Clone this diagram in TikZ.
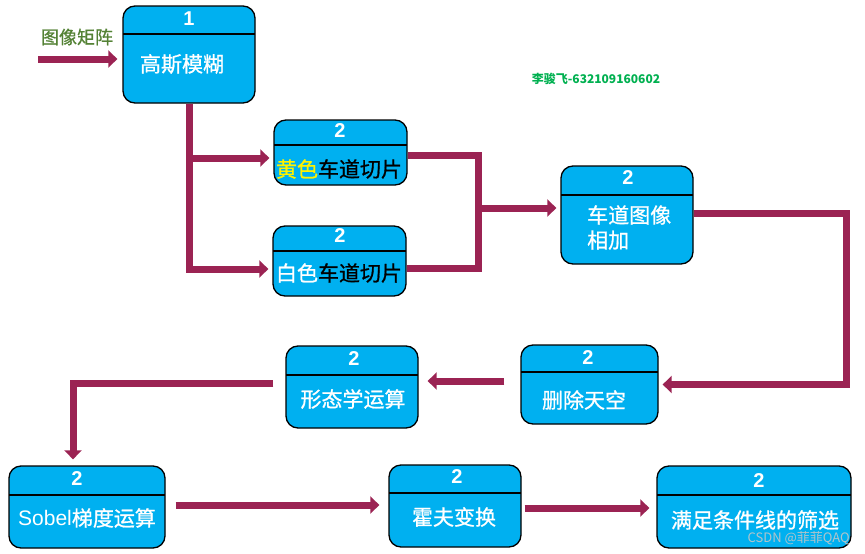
\documentclass[tikz,border=0pt]{standalone}
\usepackage{fontspec}
\setmainfont{Noto Sans CJK SC}
\newfontfamily\arialf{Liberation Sans}
\newfontfamily\medf{Noto Sans CJK SC}[FakeBold=0.9]
\usetikzlibrary{arrows.meta}
\definecolor{boxblue}{RGB}{0,176,240}
\definecolor{flowc}{RGB}{155,35,83}
\definecolor{labgreen}{RGB}{84,130,53}
\definecolor{idgreen}{RGB}{0,176,80}
\tikzset{
  box/.style={draw=black, line width=1.3pt, fill=boxblue, rounded corners=12pt, inner sep=0pt,
    path picture={\draw[line width=1.3pt] ([yshift=-#1]path picture bounding box.north west) -- ([yshift=-#1]path picture bounding box.north east);}},
  box/.default=28pt,
  num/.style={text=white, font=\arialf\bfseries\fontsize{20}{22}\selectfont, inner sep=0pt},
  lbl/.style={text=white, font=\medf\fontsize{21}{25}\selectfont, inner sep=0pt},
  flow/.style={draw=flowc, line width=7pt, -{Triangle[length=9pt,width=17pt]}},
  flowplain/.style={draw=flowc, line width=7pt}
}
\begin{document}
\begin{tikzpicture}[x=1pt,y=-1pt]
\useasboundingbox (0,0) rectangle (865,554);
% boxes
\node[box=28pt, minimum width=132pt, minimum height=97pt] (b1) at (189,54.5) {};
\node[box=25pt, minimum width=133pt, minimum height=65pt] (yel) at (340.5,152.5) {};
\node[box=25pt, minimum width=133pt, minimum height=70pt] (wht) at (339.5,261) {};
\node[box=29pt, minimum width=132pt, minimum height=98pt] (add) at (627,215) {};
\node[box=27pt, minimum width=137pt, minimum height=79pt] (del) at (589.5,384.5) {};
\node[box=29pt, minimum width=132pt, minimum height=82pt] (mor) at (352,387) {};
\node[box=29pt, minimum width=156pt, minimum height=82pt] (sob) at (87,507) {};
\node[box=28pt, minimum width=132pt, minimum height=82pt] (hou) at (455,506) {};
\node[box=29pt, minimum width=194pt, minimum height=82pt] (sat) at (754,507) {};
% numbers
\node[num] (n1) at (189,19) {1};
\node[num] (n2) at (340,131) {2};
\node[num] (n3) at (340,236) {2};
\node[num] (n4) at (628,178) {2};
\node[num] (n5) at (588,358) {2};
\node[num] (n6) at (354,359) {2};
\node[num] (n7) at (77,479) {2};
\node[num] (n8) at (457,477) {2};
\node[num] (n9) at (759,481) {2};
% labels
\node[lbl] (t1) at (182,64) {高斯模糊};
\node[lbl, text=black] (t2) at (339,169) {\textcolor{yellow}{黄色}车道切片};
\node[lbl, text=black] (t3) at (339,273) {\textcolor{white}{白色}车道切片};
\node[lbl, anchor=west, align=left] (t4) at (587,227.5) {车道图像\\相加};
\node[lbl] (t5) at (584,400) {删除天空};
\node[lbl] (t6) at (353,399) {形态学运算};
\node[lbl] (t7) at (87,518) {{\arialf Sobel}梯度运算};
\node[lbl] (t8) at (454,517) {霍夫变换};
\node[lbl] (t9) at (755,520) {满足条件线的筛选};
% free texts
\node[text=labgreen, font=\medf\fontsize{18}{20}\selectfont, inner sep=0pt] (lin) at (77,37) {图像矩阵};
\node[text=idgreen, font=\bfseries\fontsize{12}{14}\selectfont, inner sep=0pt] (id) at (596,79) {李骏飞-632109160602};
\node[text=gray!45, opacity=0.9, font=\fontsize{13}{15}\selectfont, inner sep=0pt, anchor=east] (wm) at (850,538) {CSDN @菲菲QAQ};
% connectors
\coordinate (in) at (38,59);
\draw[flow, shorten >=5pt] (in) -- (in -| b1.west);
\draw[flow, shorten >=4pt] (b1.south) |- ([yshift=-8pt]wht.west);
\draw[flow, shorten >=4pt] ([yshift=-5.5pt]b1.south |- yel.west) -- ([yshift=-5.5pt]yel.west);
\coordinate (j) at (478,208);
\draw[flowplain] ([yshift=-2.5pt]yel.east) -| (j);
\draw[flowplain] ([yshift=-7pt]wht.east) -| (j);
\draw[flow, shorten >=4pt] (j) -- (j -| add.west);
\draw[flow, shorten >=4pt] ([yshift=2pt]add.east) -- ++(153,0) |- (del.east);
\draw[flow, shorten <=16pt, shorten >=9pt] ([yshift=3.5pt]del.west) -- ([yshift=3.5pt]del.west -| mor.east);
\draw[flow, shorten <=12pt, shorten >=6pt] ([yshift=4pt]mor.west) -| ([xshift=-14pt]sob.north);
\draw[flow, shorten <=10pt, shorten >=9pt] ([yshift=2pt]sob.east) -- ([yshift=2pt]sob.east -| hou.west);
\draw[flow, shorten <=3pt, shorten >=7pt] ([yshift=-2pt]hou.east) -- ([yshift=-2pt]hou.east -| sat.west);
\end{tikzpicture}
\end{document}
